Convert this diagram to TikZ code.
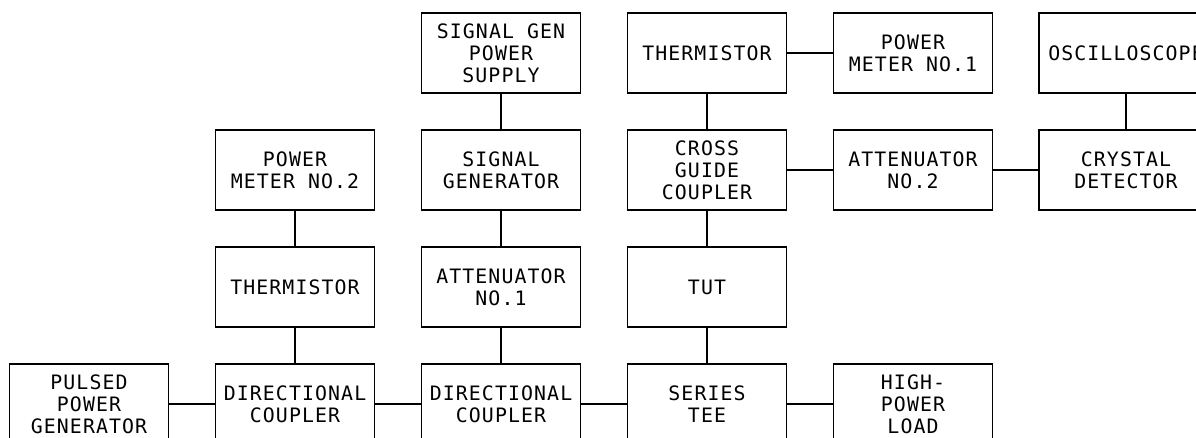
\documentclass[tikz,border=0pt]{standalone}
\usepackage{fontspec}
\usepackage{tikz}
\usetikzlibrary{positioning}
\newfontfamily\unitfont[LetterSpace=5.5]{DejaVu Sans Mono}

\begin{document}
\begin{tikzpicture}[line width=1.1pt,
  unit/.style={draw,minimum width=3.18cm,minimum height=1.6cm,align=center,
    inner sep=1pt,font={\unitfont\fontsize{11.3pt}{12.5pt}\selectfont}},
  wide unit/.style={unit,minimum width=3.48cm}]
  \path[use as bounding box,clip] (0,0) rectangle (23.92,8.76);

  % bottom row: main line
  \node[unit] (pgen) at (1.78,0.68) {PULSED\\POWER\\GENERATOR};
  \node[unit] (dcA) at (5.90,0.68) {DIRECTIONAL\\COUPLER};
  \node[unit] (dcB) at (10.02,0.68) {DIRECTIONAL\\COUPLER};
  \node[unit] (tee) at (14.14,0.68) {SERIES\\TEE};
  \node[unit] (load) at (18.26,0.68) {HIGH-\\POWER\\LOAD};
  \draw (pgen) -- (dcA) -- (dcB) -- (tee) -- (load);

  % first coupler branch
  \node[unit] (thermA) at (5.90,3.02) {THERMISTOR};
  \node[unit] (pm2) at (5.90,5.36) {POWER\\METER NO.2};
  \draw (dcA) -- (thermA) -- (pm2);

  % signal source branch
  \node[unit] (attA) at (10.02,3.02) {ATTENUATOR\\NO.1};
  \node[unit] (siggen) at (10.02,5.36) {SIGNAL\\GENERATOR};
  \node[unit] (sgps) at (10.02,7.70) {SIGNAL GEN\\POWER\\SUPPLY};
  \draw (dcB) -- (attA) -- (siggen) -- (sgps);

  % test branch
  \node[unit] (tut) at (14.14,3.02) {TUT};
  \node[unit] (xgc) at (14.14,5.36) {CROSS\\GUIDE\\COUPLER};
  \node[unit] (thermB) at (14.14,7.70) {THERMISTOR};
  \node[unit] (pm1) at (18.26,7.70) {POWER\\METER NO.1};
  \draw (tee) -- (tut) -- (xgc) -- (thermB) -- (pm1);

  % detector line
  \node[unit] (attB) at (18.26,5.36) {ATTENUATOR\\NO.2};
  \node[wide unit] (xtal) at (22.52,5.36) {CRYSTAL\\DETECTOR};
  \node[wide unit] (scope) at (22.52,7.70) {OSCILLOSCOPE};
  \draw (xgc) -- (attB) -- (xtal) -- (scope);
\end{tikzpicture}
\end{document}
